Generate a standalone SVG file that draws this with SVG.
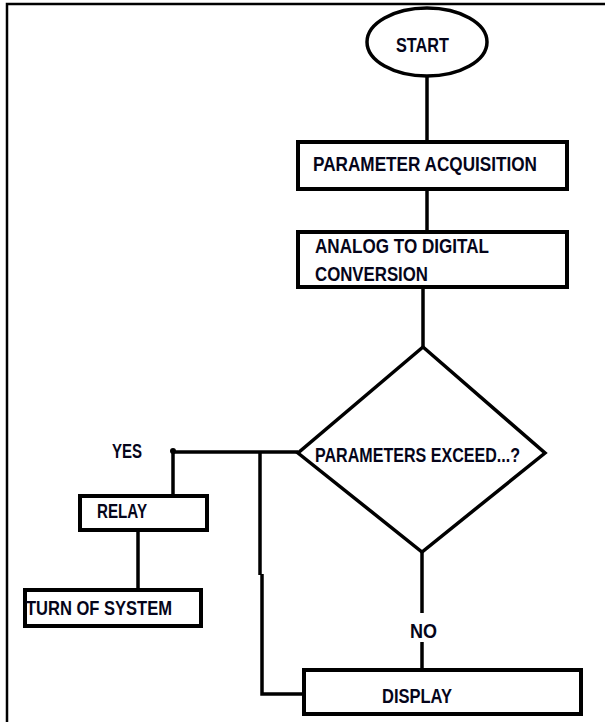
<svg xmlns="http://www.w3.org/2000/svg" width="605" height="722" viewBox="0 0 605 722">
  <style>
    .box { fill: #ffffff; stroke: #000000; stroke-width: 4; }
    .shape { fill: #ffffff; stroke: #000000; stroke-width: 3.5; stroke-linejoin: miter; }
    .conn { fill: none; stroke: #000000; stroke-width: 3.5; }
    .lbl { font-family: "Liberation Sans", Arial, sans-serif; font-weight: bold; font-size: 20.5px; fill: #05051a; }
  </style>
  <rect x="0" y="0" width="605" height="722" fill="#ffffff"/>
  <path d="M7,722 V4 H605" fill="none" stroke="#000000" stroke-width="2.5"/>

  <g id="connectors">
    <path class="conn" d="M427,77 V142"/>
    <path class="conn" d="M427,189 V232"/>
    <path class="conn" d="M423,287 V347"/>
    <path class="conn" d="M298,452 H173"/>
    <path class="conn" d="M173,451 V496"/>
    <path class="conn" d="M138,530 V590"/>
    <path class="conn" d="M260,452 V575"/>
    <path class="conn" d="M262,574 V694 H304"/>
    <path class="conn" d="M422,552 V613"/>
    <path class="conn" d="M422,642 V670"/>
    <circle cx="173" cy="451" r="3" fill="#000000"/>
  </g>

  <g id="start">
    <ellipse class="shape" cx="427" cy="42" rx="60" ry="34" stroke-width="3"/>
    <text class="lbl" x="396" y="52" font-size="22" textLength="53" lengthAdjust="spacingAndGlyphs">START</text>
  </g>

  <g id="parameter-acquisition">
    <rect class="box" x="298" y="142" width="269" height="47"/>
    <text class="lbl" x="313" y="171" textLength="224" lengthAdjust="spacingAndGlyphs">PARAMETER ACQUISITION</text>
  </g>

  <g id="adc">
    <rect class="box" x="298" y="232" width="269" height="55"/>
    <text class="lbl" x="315" y="253" textLength="174" lengthAdjust="spacingAndGlyphs">ANALOG TO DIGITAL</text>
    <text class="lbl" x="315" y="281" textLength="113" lengthAdjust="spacingAndGlyphs">CONVERSION</text>
  </g>

  <g id="decision">
    <polygon class="shape" points="423,347 545,453 422,552 298,453"/>
    <text class="lbl" x="315" y="462" textLength="205" lengthAdjust="spacingAndGlyphs">PARAMETERS EXCEED...?</text>
  </g>

  <g id="yes-label">
    <text class="lbl" x="112" y="458" textLength="30" lengthAdjust="spacingAndGlyphs">YES</text>
  </g>

  <g id="relay">
    <rect class="box" x="80" y="496" width="127" height="34"/>
    <text class="lbl" x="97" y="518" textLength="50" lengthAdjust="spacingAndGlyphs">RELAY</text>
  </g>

  <g id="turn-of-system">
    <rect class="box" x="25" y="590" width="176" height="36"/>
    <text class="lbl" x="26" y="615" textLength="146" lengthAdjust="spacingAndGlyphs">TURN OF SYSTEM</text>
  </g>

  <g id="no-label">
    <text class="lbl" x="410" y="638" textLength="27" lengthAdjust="spacingAndGlyphs">NO</text>
  </g>

  <g id="display">
    <rect class="box" x="304" y="670" width="277" height="44"/>
    <text class="lbl" x="382" y="703" textLength="70" lengthAdjust="spacingAndGlyphs">DISPLAY</text>
  </g>
</svg>
